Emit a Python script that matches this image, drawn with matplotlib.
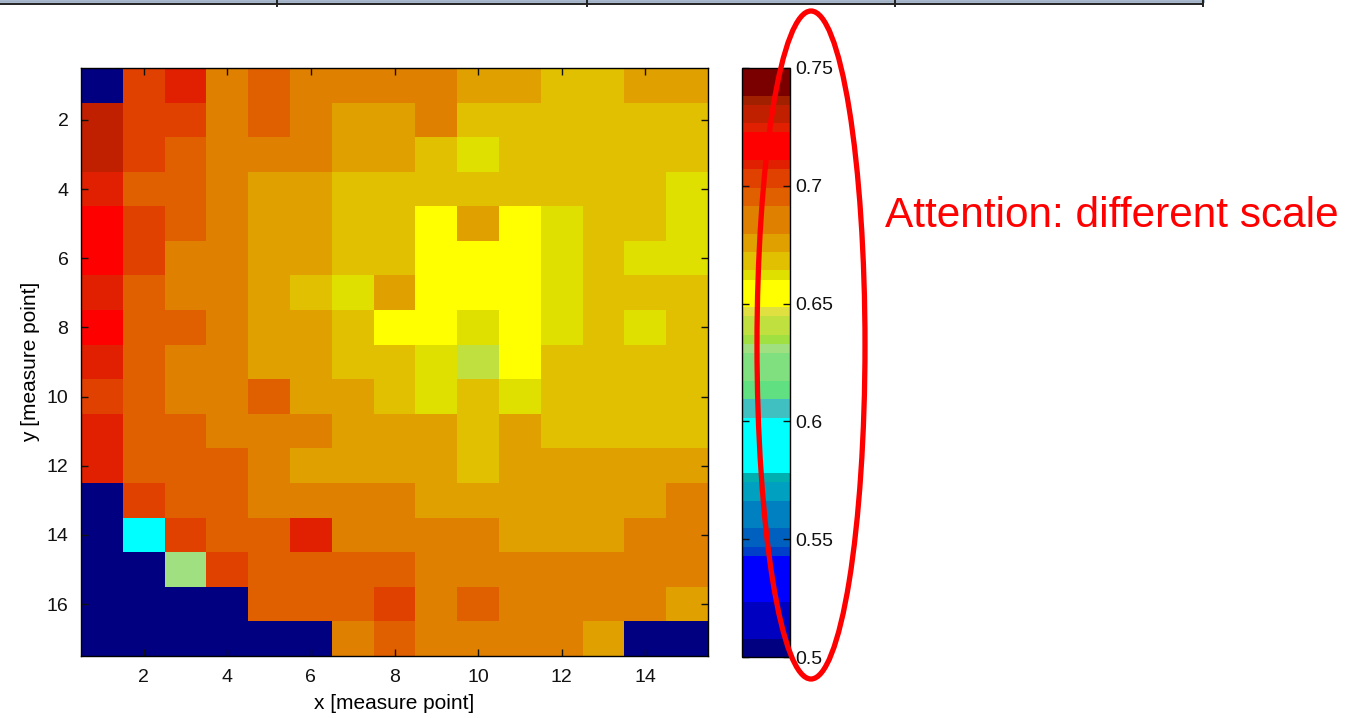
import numpy as np
import matplotlib.pyplot as plt
from matplotlib.colors import ListedColormap
from matplotlib.patches import Ellipse
from matplotlib.lines import Line2D

plt.rcParams['font.family'] = ['Liberation Sans', 'DejaVu Sans']

# colormap built from bands, bottom to top: colour and number of entries (64 in total)
band_colors = ['#000080', '#0000C0', '#0000FF', '#0040C8', '#0060C0', '#0080C0', '#00A0C0', '#00B0B0',
               '#00FFFF', '#40C0C0', '#60E080', '#80E080', '#A0E080', '#A0E040', '#C0E040', '#E0E040',
               '#FFFF00', '#E0E000', '#E0C000', '#E0A000', '#E08000', '#E06000', '#E04000', '#E02000',
               '#FF0000', '#E02000', '#C02000', '#A02000', '#7A0000']
band_counts = [2, 4, 5, 1, 2, 3, 2, 1, 6, 2, 2, 3, 1, 1, 2, 1, 3, 1, 2, 2, 3, 2, 2, 1, 3, 1, 2, 1, 3]

# measured values, 17 rows (y) x 15 columns (x)
values = [
    [.500, .703, .709, .686, .695, .686, .686, .686, .686, .675, .675, .666, .666, .675, .675],
    [.729, .703, .703, .686, .695, .686, .675, .675, .686, .666, .666, .666, .666, .666, .666],
    [.729, .703, .695, .686, .686, .686, .675, .675, .666, .662, .666, .666, .666, .666, .666],
    [.709, .695, .695, .686, .675, .675, .666, .666, .666, .666, .666, .666, .666, .666, .662],
    [.717, .703, .695, .686, .675, .675, .666, .666, .655, .675, .655, .662, .666, .666, .662],
    [.717, .703, .686, .686, .675, .675, .666, .666, .655, .655, .655, .662, .666, .662, .662],
    [.709, .695, .686, .686, .675, .666, .662, .675, .655, .655, .655, .662, .666, .666, .666],
    [.717, .695, .695, .686, .675, .675, .666, .655, .655, .662, .655, .662, .666, .662, .666],
    [.709, .695, .686, .686, .675, .675, .666, .666, .662, .640, .655, .666, .666, .666, .666],
    [.703, .695, .686, .686, .695, .675, .675, .666, .662, .666, .662, .666, .666, .666, .666],
    [.709, .695, .695, .686, .686, .686, .675, .675, .675, .666, .675, .666, .666, .666, .666],
    [.709, .695, .695, .695, .686, .675, .675, .675, .675, .666, .675, .675, .675, .675, .675],
    [.500, .703, .695, .695, .686, .686, .686, .686, .675, .675, .675, .675, .675, .675, .686],
    [.500, .590, .703, .695, .695, .709, .686, .686, .686, .686, .675, .675, .675, .686, .686],
    [.500, .500, .631, .703, .695, .695, .695, .695, .686, .686, .686, .686, .686, .686, .686],
    [.500, .500, .500, .500, .695, .695, .695, .703, .686, .695, .686, .686, .686, .686, .675],
    [.500, .500, .500, .500, .500, .500, .686, .695, .686, .686, .686, .686, .675, .500, .500],
]
x_ticks = [2, 4, 6, 8, 10, 12, 14]
y_ticks = [2, 4, 6, 8, 10, 12, 14, 16]
cb_ticks = [0.5, 0.55, 0.6, 0.65, 0.7, 0.75]
cb_labels = ['0.5', '0.55', '0.6', '0.65', '0.7', '0.75']

cmap = ListedColormap([c for c, n in zip(band_colors, band_counts) for _ in range(n)])

W, H = 1356, 718
fig = plt.figure(figsize=(W / 100, H / 100), dpi=100)


def px_rect(x0, y0, x1, y1):
    return [x0 / W, 1 - y1 / H, (x1 - x0) / W, (y1 - y0) / H]


ax = fig.add_axes(px_rect(81, 68, 708, 656))
cax = fig.add_axes(px_rect(742, 68, 790, 657))

data = np.array(values)
ny, nx = data.shape
im = ax.imshow(data, cmap=cmap, vmin=0.5, vmax=0.75, interpolation='nearest',
               aspect='auto', extent=(0.5, nx + 0.5, ny + 0.5, 0.5))
ax.set_xticks(x_ticks)
ax.set_yticks(y_ticks)
ax.tick_params(direction='in', top=True, right=True, length=5, width=1,
               labelsize=14, pad=9, colors='#111111')
ax.set_xlabel('x [measure point]', fontsize=15, labelpad=6)
ax.set_ylabel('y [measure point]', fontsize=15, labelpad=5)
for s in ax.spines.values():
    s.set_linewidth(1)

cb = fig.colorbar(im, cax=cax, ticks=cb_ticks)
cb.set_ticklabels(cb_labels)
cax.tick_params(direction='in', left=True, right=True, length=5, width=1,
                labelsize=14, pad=4, colors='#111111')
cb.outline.set_linewidth(1)

fig.text(885 / W, 1 - 216 / H, 'Attention: different scale', color='red',
         fontsize=30.5, ha='left', va='center')

fig.add_artist(Ellipse((811 / W, 1 - 345 / H), 108 / W, 668 / H, transform=fig.transFigure,
                       fill=False, ec='red', lw=3.8, zorder=10))

# table border running along the top edge
fig.add_artist(Line2D([0, 1203 / W], [1 - 1.2 / H] * 2, transform=fig.transFigure,
                      color='#9fb0c4', lw=2))
fig.add_artist(Line2D([0, 1203 / W], [1 - 3.5 / H] * 2, transform=fig.transFigure,
                      color='#222222', lw=1.4))
for xv in [277, 587, 895, 1203]:
    fig.add_artist(Line2D([xv / W] * 2, [1, 1 - 6 / H], transform=fig.transFigure,
                          color='#222222', lw=1.4))

fig.savefig('out.png', dpi=100)
